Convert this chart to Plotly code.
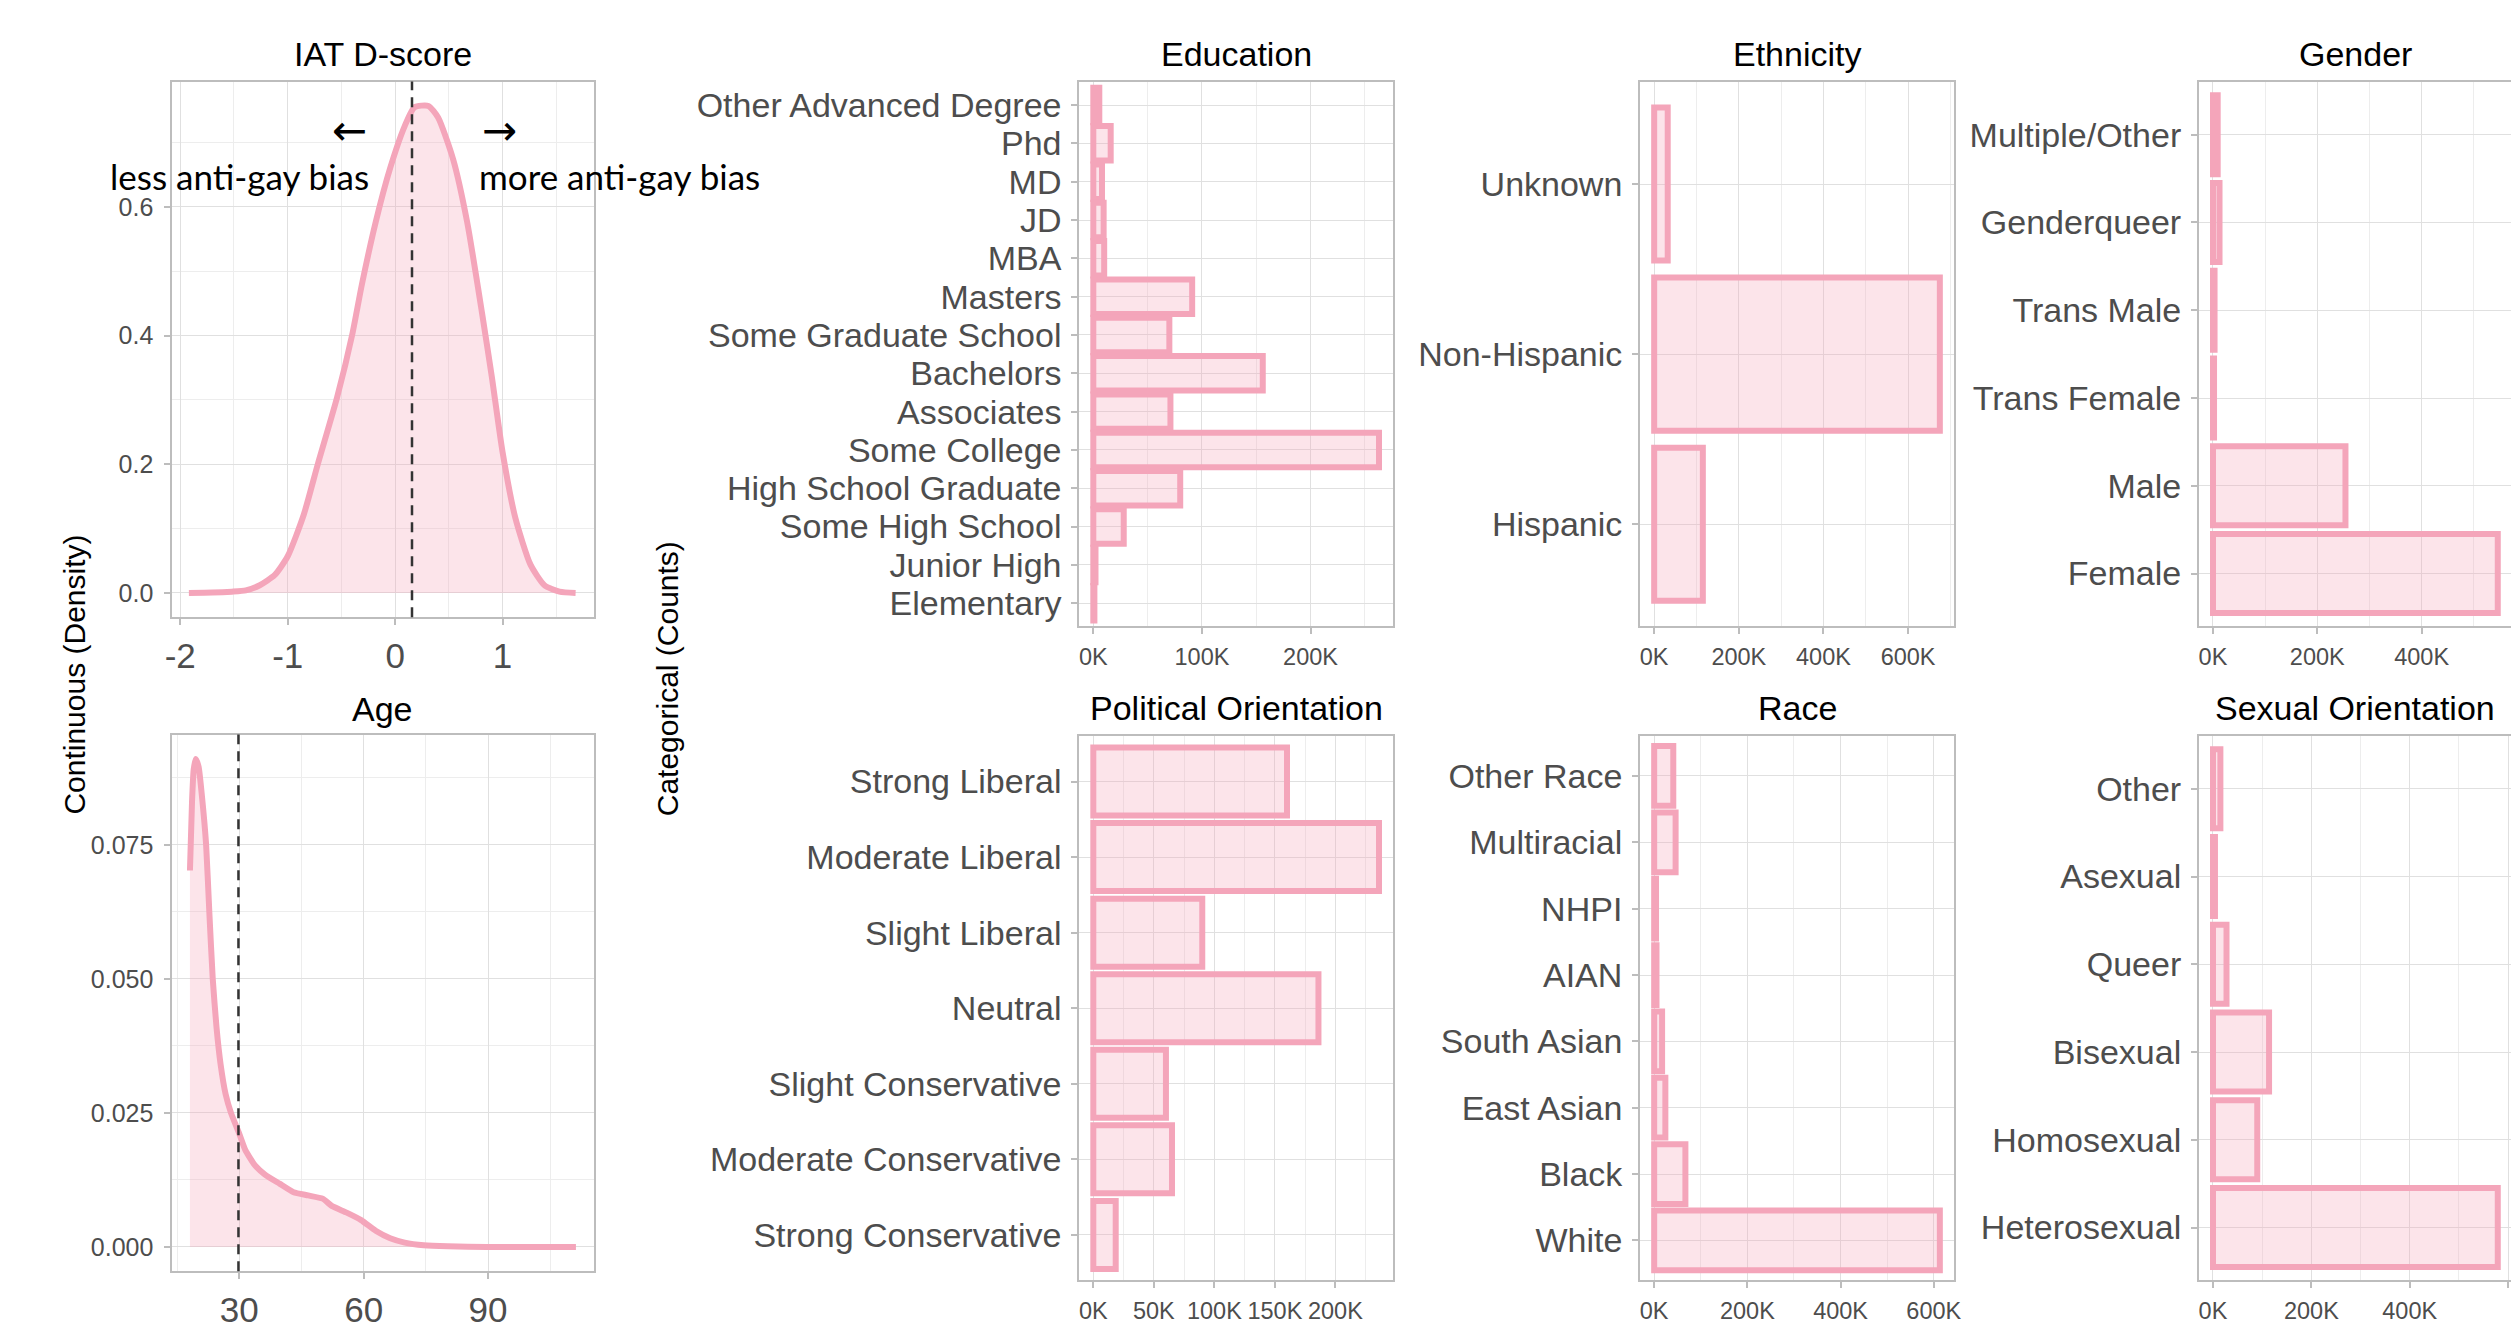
import plotly.graph_objects as go

OFF = 8                          # default page margin around the plot div
PAGE_W, PAGE_H = 2519, 1329
W, H = PAGE_W - OFF, PAGE_H - OFF
PINK = "#F4A5BA"
FILL = "rgba(244,165,186,0.30)"
FONT = "Liberation Sans, Arial, sans-serif"
TICKCOL = "#4D4D4D"
GRID = "#E0E0E0"
MINOR = "#EDEDED"
BORDER = "#BDBDBD"

# ---------------- data ----------------
iat_x = [-1.92, -1.70, -1.52, -1.39, -1.26, -1.12, -1.00, -0.85, -0.72, -0.54, -0.40, -0.31,
         -0.18, -0.045, 0.09, 0.18, 0.31, 0.40, 0.54, 0.67, 0.81, 0.90, 1.00, 1.12, 1.26,
         1.39, 1.53, 1.68]
iat_density = [0.0, 0.0005, 0.002, 0.004, 0.012, 0.028, 0.057, 0.122, 0.200, 0.304, 0.401,
               0.479, 0.577, 0.661, 0.726, 0.755, 0.757, 0.739, 0.674, 0.577, 0.434, 0.336,
               0.219, 0.116, 0.044, 0.012, 0.002, 0.0]
iat_mean = 0.157

age_x = [18.1, 18.6, 19.0, 19.5, 20.2, 21.0, 22.0, 22.8, 23.6, 24.5, 25.5, 26.7, 28.0, 30.0,
         31.5, 33.8, 36.2, 39.7, 43.1, 46.6, 50.1, 52.4, 55.9, 59.4, 62.9, 66.4, 69.9, 74.5,
         80.3, 89.7, 111.2]
age_density = [0.0702, 0.083, 0.089, 0.091, 0.0895, 0.084, 0.075, 0.062, 0.050, 0.041, 0.034,
               0.0285, 0.025, 0.0211, 0.0180, 0.0152, 0.0135, 0.0118, 0.0102, 0.0096, 0.0090,
               0.0076, 0.0064, 0.0050, 0.0030, 0.0016, 0.0008, 0.0003, 0.0001, 0.0, 0.0]
age_median = 29.8

education_levels = ["Other Advanced Degree", "Phd", "MD", "JD", "MBA", "Masters",
                    "Some Graduate School", "Bachelors", "Associates", "Some College",
                    "High School Graduate", "Some High School", "Junior High", "Elementary"]
education_counts_k = [5.5, 16, 8, 9.5, 10, 91, 70, 156, 71, 263, 80, 28, 2, 1]

ethnicity_levels = ["Unknown", "Non-Hispanic", "Hispanic"]
ethnicity_counts_k = [32, 675, 115]

gender_levels = ["Multiple/Other", "Genderqueer", "Trans Male", "Trans Female", "Male", "Female"]
gender_counts_k = [9, 12.5, 3, 2, 254, 546]

political_levels = ["Strong Liberal", "Moderate Liberal", "Slight Liberal", "Neutral",
                    "Slight Conservative", "Moderate Conservative", "Strong Conservative"]
political_counts_k = [160, 236, 90, 186, 60, 65, 18.5]

race_levels = ["Other Race", "Multiracial", "NHPI", "AIAN", "South Asian", "East Asian",
               "Black", "White"]
race_counts_k = [41, 46, 4, 5, 17, 24, 67, 613]

sexual_levels = ["Other", "Asexual", "Queer", "Bisexual", "Homosexual", "Heterosexual"]
sexual_counts_k = [15, 4, 27.5, 114, 90, 579]

# ---------------- layout helpers ----------------
def fx(px):
    return (px - OFF) / W

def fy(py):
    return 1 - (py - OFF) / H

def sfx(i):
    return "" if i == 1 else str(i)

# panel boxes in page pixels: (left, right, top, bottom)
boxes = {
    1: (166, 590, 82, 621),          # IAT
    2: (166, 590, 739, 1279),        # Age
    3: (1078, 1394, 82.5, 630),      # Education
    4: (1642, 1958, 82.5, 630),      # Ethnicity
    5: (2204, 2519, 82.5, 630),      # Gender
    6: (1078, 1394, 740.6, 1288),    # Political
    7: (1642, 1958, 740.6, 1288),    # Race
    8: (2204, 2519, 740.6, 1288),    # Sexual orientation
}
RIGHT_LIMIT = OFF + W   # last visible page pixel of the plot div

fig = go.Figure()
layout = dict(
    width=W, height=H, margin=dict(l=0, r=0, t=0, b=0),
    paper_bgcolor="white", plot_bgcolor="white", showlegend=False,
    font=dict(family=FONT, color=TICKCOL),
)

def axis_common():
    return dict(showline=True, mirror=True, linecolor=BORDER, linewidth=1.5,
                ticks="outside", ticklen=6, tickwidth=1.5, tickcolor=BORDER,
                showgrid=True, gridcolor=GRID, gridwidth=1.4, zeroline=False,
                tickangle=0, fixedrange=True)

for i, (l, r, t, b) in boxes.items():
    xa = axis_common()
    ya = axis_common()
    xa["domain"] = [fx(l), fx(min(r, RIGHT_LIMIT))]
    ya["domain"] = [fy(b), fy(t)]
    xa["anchor"] = "y" + sfx(i)
    ya["anchor"] = "x" + sfx(i)
    layout["xaxis" + sfx(i)] = xa
    layout["yaxis" + sfx(i)] = ya

# ---- continuous panels ----
fig.add_trace(go.Scatter(x=iat_x, y=iat_density, mode="lines", fill="tozeroy",
                         fillcolor=FILL, line=dict(color=PINK, width=6, shape="spline",
                                                   smoothing=0.6),
                         xaxis="x", yaxis="y"))
fig.add_trace(go.Scatter(x=age_x, y=age_density, mode="lines", fill="tozeroy",
                         fillcolor=FILL, line=dict(color=PINK, width=6, shape="spline",
                                                   smoothing=0.5),
                         xaxis="x2", yaxis="y2"))

iat_max = max(iat_density)
layout["xaxis"].update(range=[-2.076, 1.849], tickvals=[-2, -1, 0, 1],
                       ticktext=["-2", "-1", "0", "1"], tickfont=dict(size=35),
                       ticklabelstandoff=1,
                       minor=dict(tickvals=[-1.5, -0.5, 0.5, 1.5], showgrid=True,
                                  gridcolor=MINOR, gridwidth=1, ticks=""))
layout["yaxis"].update(range=[-0.05 * iat_max, 1.05 * iat_max], tickmode="linear", tick0=0,
                       dtick=0.2, tickformat=".1f", tickfont=dict(size=25),
                       ticklabelstandoff=6,
                       minor=dict(tickmode="linear", tick0=0.1, dtick=0.2, showgrid=True,
                                  gridcolor=MINOR, gridwidth=1, ticks=""))
age_max = max(age_density)
layout["xaxis2"].update(range=[13.8, 115.5], tickvals=[30, 60, 90], tickfont=dict(size=35),
                        ticklabelstandoff=1,
                        minor=dict(tickvals=[15, 45, 75, 105], showgrid=True,
                                   gridcolor=MINOR, gridwidth=1, ticks=""))
layout["yaxis2"].update(range=[-0.05 * age_max, 1.05 * age_max], tickmode="linear", tick0=0,
                        dtick=0.025, tickformat=".3f", tickfont=dict(size=25),
                        ticklabelstandoff=6,
                        minor=dict(tickmode="linear", tick0=0.0125, dtick=0.025,
                                   showgrid=True, gridcolor=MINOR, gridwidth=1, ticks=""))

shapes = [
    dict(type="line", xref="x", yref="y domain", x0=iat_mean, x1=iat_mean, y0=0, y1=1,
         line=dict(color="#333333", width=2.5, dash="10px,7px")),
    dict(type="line", xref="x2", yref="y2 domain", x0=age_median, x1=age_median, y0=0, y1=1,
         line=dict(color="#333333", width=2.5, dash="10px,7px")),
]

# ---- categorical panels ----
bar_panels = [
    (3, education_levels, education_counts_k, 100),
    (4, ethnicity_levels, ethnicity_counts_k, 200),
    (5, gender_levels, gender_counts_k, 200),
    (6, political_levels, political_counts_k, 50),
    (7, race_levels, race_counts_k, 200),
    (8, sexual_levels, sexual_counts_k, 200),
]
for i, cats, vals, step in bar_panels:
    fig.add_trace(go.Bar(x=vals, y=cats, orientation="h", width=0.9,
                         marker=dict(color=FILL, line=dict(color=PINK, width=6)),
                         xaxis="x" + sfx(i), yaxis="y" + sfx(i)))
    m = max(vals)
    n = len(cats)
    lo, hi = -0.05 * m, 1.05 * m
    l, r, t, b = boxes[i]
    vis = min(r, RIGHT_LIMIT)
    hi = lo + (hi - lo) * (vis - l) / (r - l)   # keep scale when panel is cut at page edge
    layout["xaxis" + sfx(i)].update(range=[lo, hi], tickmode="linear", tick0=0,
                                    dtick=step, ticksuffix="K", tickfont=dict(size=23.5),
                                    ticklabelstandoff=3,
                                    minor=dict(tickmode="linear", tick0=step / 2, dtick=step,
                                               showgrid=True, gridcolor=MINOR, gridwidth=1,
                                               ticks=""))
    layout["yaxis" + sfx(i)].update(type="category", categoryorder="array",
                                    categoryarray=cats, range=[n - 0.4, -0.6],
                                    tickmode="array", tickvals=cats, ticktext=cats,
                                    tickfont=dict(size=34), ticklabelstandoff=3)

layout["barmode"] = "overlay"

# ---- titles and annotations ----
titles = [
    ("IAT D-score", 1, 54.7), ("Age", 2, 713), ("Education", 3, 54.7),
    ("Ethnicity", 4, 54.7), ("Gender", 5, 54.7), ("Political Orientation", 6, 712),
    ("Race", 7, 712), ("Sexual Orientation", 8, 712),
]
annotations = []
for text, i, ty in titles:
    l, r, t, b = boxes[i]
    annotations.append(dict(text=text, x=fx((l + r) / 2), y=fy(ty), xref="paper",
                            yref="paper", showarrow=False, xanchor="center",
                            yanchor="middle", font=dict(size=34, color="black", family=FONT)))

annotations += [
    dict(text="Continuous (Density)", x=fx(68), y=fy(679), xref="paper", yref="paper",
         textangle=-90, showarrow=False, xanchor="center", yanchor="middle",
         font=dict(size=30, color="black", family=FONT)),
    dict(text="Categorical (Counts)", x=fx(665), y=fy(683), xref="paper", yref="paper",
         textangle=-90, showarrow=False, xanchor="center", yanchor="middle",
         font=dict(size=30, color="black", family=FONT)),
    dict(text="←", x=fx(344), y=fy(131), xref="paper", yref="paper", showarrow=False,
         xanchor="center", yanchor="middle", font=dict(size=42, color="black",
                                                       family="DejaVu Sans")),
    dict(text="→", x=fx(495), y=fy(131), xref="paper", yref="paper", showarrow=False,
         xanchor="center", yanchor="middle", font=dict(size=42, color="black",
                                                       family="DejaVu Sans")),
    dict(text="less anti-gay bias", x=fx(234), y=fy(177), xref="paper", yref="paper",
         showarrow=False, xanchor="center", yanchor="middle",
         font=dict(size=35, color="black", family="Lato, Open Sans, sans-serif")),
    dict(text="more anti-gay bias", x=fx(616), y=fy(177), xref="paper", yref="paper",
         showarrow=False, xanchor="center", yanchor="middle",
         font=dict(size=35, color="black", family="Lato, Open Sans, sans-serif")),
]

layout["annotations"] = annotations
layout["shapes"] = shapes
fig.update_layout(**layout)
fig.write_html("out.html")
